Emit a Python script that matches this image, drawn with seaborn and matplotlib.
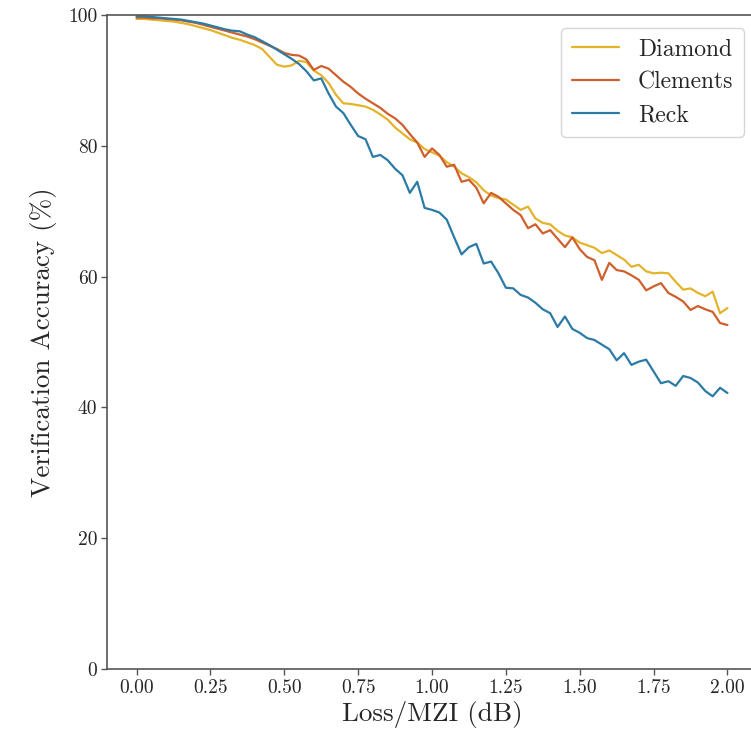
import numpy as np
import pandas as pd
import matplotlib
matplotlib.use("Agg")
import matplotlib.pyplot as plt
import seaborn as sns

loss_db = [round(i * 0.025, 3) for i in range(81)]

diamond = [99.4, 99.4, 99.3, 99.2, 99.1, 99.0, 98.8, 98.6, 98.3, 98.0,
           97.7, 97.3, 96.9, 96.5, 96.2, 95.8, 95.4, 94.8, 93.6, 92.4,
           92.1, 92.3, 93.0, 92.8, 91.5, 90.8, 89.6, 87.8, 86.5, 86.4,
           86.2, 86.0, 85.5, 84.8, 84.0, 82.8, 81.9, 81.0, 80.5, 79.5,
           79.0, 78.5, 77.5, 76.8, 75.8, 75.2, 74.4, 73.2, 72.4, 72.0,
           71.8, 71.0, 70.2, 70.7, 68.9, 68.2, 68.0, 67.0, 66.3, 66.0,
           65.2, 64.8, 64.4, 63.6, 64.0, 63.3, 62.6, 61.5, 61.8, 60.8,
           60.5, 60.6, 60.5, 59.2, 58.0, 58.2, 57.5, 57.0, 57.7, 54.4,
           55.2]

clements = [99.6, 99.6, 99.5, 99.5, 99.4, 99.3, 99.2, 99.0, 98.8, 98.5,
            98.2, 97.9, 97.6, 97.3, 97.0, 96.7, 96.3, 95.8, 95.3, 94.8,
            94.2, 93.9, 93.8, 93.2, 91.6, 92.2, 91.8, 90.8, 89.8, 89.0,
            88.0, 87.2, 86.5, 85.8, 84.9, 84.2, 83.2, 81.8, 80.5, 78.3,
            79.6, 78.6, 76.8, 77.1, 74.5, 74.8, 73.6, 71.2, 72.8, 72.2,
            71.2, 70.2, 69.4, 67.4, 68.0, 66.6, 67.1, 65.8, 64.5, 66.0,
            64.2, 63.0, 62.5, 59.5, 62.1, 61.0, 60.8, 60.2, 59.5, 57.9,
            58.5, 59.0, 57.5, 56.9, 56.2, 54.9, 55.5, 55.0, 54.6, 52.9,
            52.6]

reck = [99.8, 99.8, 99.7, 99.6, 99.5, 99.4, 99.3, 99.1, 98.9, 98.7,
        98.4, 98.1, 97.8, 97.6, 97.5, 97.0, 96.6, 96.0, 95.4, 94.7,
        94.0, 93.3, 92.5, 91.4, 90.0, 90.3, 88.0, 86.0, 85.0, 83.2,
        81.5, 81.0, 78.3, 78.6, 77.8, 76.5, 75.5, 72.8, 74.5, 70.5,
        70.2, 69.8, 68.7, 66.0, 63.4, 64.5, 65.0, 62.0, 62.3, 60.5,
        58.3, 58.2, 57.2, 56.8, 56.0, 55.0, 54.4, 52.3, 53.9, 52.0,
        51.4, 50.6, 50.3, 49.6, 48.9, 47.2, 48.3, 46.5, 47.0, 47.3,
        45.5, 43.7, 44.0, 43.3, 44.8, 44.5, 43.8, 42.5, 41.7, 43.0,
        42.2]

series_names = ["Diamond", "Clements", "Reck"]
colors = ["#E4B32A", "#CF5F2C", "#2B7BA6"]
x_ticks = [0.0, 0.25, 0.5, 0.75, 1.0, 1.25, 1.5, 1.75, 2.0]
y_ticks = [0, 20, 40, 60, 80, 100]

df = pd.concat([
    pd.DataFrame({"loss": loss_db, "acc": vals, "mesh": name})
    for name, vals in zip(series_names, [diamond, clements, reck])
], ignore_index=True)

sns.set_style("ticks")
plt.rcParams["font.family"] = "serif"
plt.rcParams["font.serif"] = ["cmr10", "DejaVu Serif"]
plt.rcParams["mathtext.fontset"] = "cm"
plt.rcParams["axes.formatter.use_mathtext"] = True

fig = plt.figure(figsize=(7.51, 7.37), dpi=100)
ax = fig.add_axes([107 / 751, 68 / 737, 650 / 751, 654 / 737])

sns.lineplot(data=df, x="loss", y="acc", hue="mesh", hue_order=series_names,
             palette=colors, linewidth=1.6, ax=ax)

ax.set_xlim(-0.1, 2.1)
ax.set_ylim(0, 100)
ax.set_xticks(x_ticks)
ax.set_xticklabels([f"{t:.2f}" for t in x_ticks])
ax.set_yticks(y_ticks)
ax.set_yticklabels([str(t) for t in y_ticks])
ax.tick_params(labelsize=14, length=4, width=1, color="#555555", pad=3)
ax.set_xlabel("Loss/MZI (dB)", fontsize=19.5, labelpad=3)
ax.set_ylabel("Verification Accuracy (%)", fontsize=19.5, labelpad=8)
for s in ax.spines.values():
    s.set_color("#555555")
    s.set_linewidth(1.2)

leg = ax.legend(loc="upper right", fontsize=17, frameon=True,
                handlelength=2.0, handletextpad=0.8, borderpad=0.45,
                labelspacing=0.45, borderaxespad=0.55)
leg.get_frame().set_edgecolor("#cccccc")
for line in leg.get_lines():
    line.set_linewidth(1.6)

fig.savefig("out.png", dpi=100)
